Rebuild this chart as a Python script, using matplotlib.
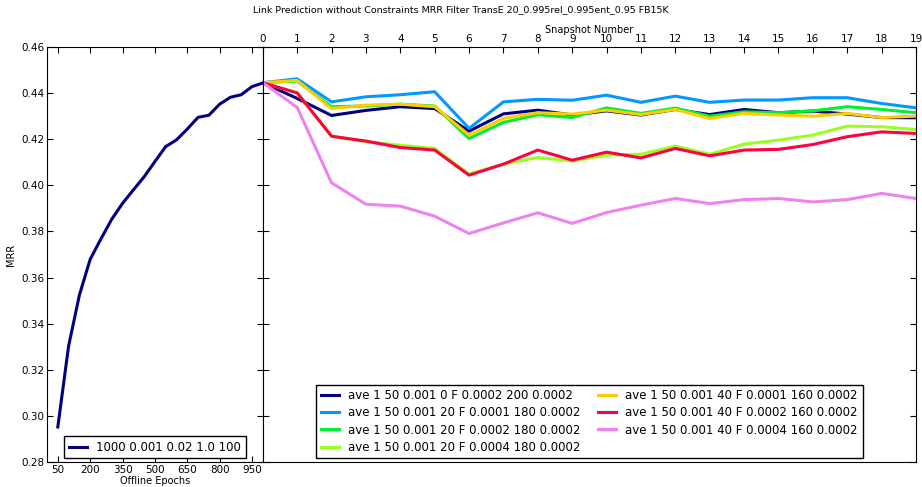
import numpy as np
import matplotlib
matplotlib.use("Agg")
import matplotlib.pyplot as plt

# offline training curve
offline_epochs = [50, 100, 150, 200, 250, 300, 350, 400, 450, 500,
                  550, 600, 650, 700, 750, 800, 850, 900, 950, 1000]
offline_mrr = [0.2952, 0.3303, 0.3524, 0.3679, 0.3768, 0.3853, 0.3922, 0.3980,
               0.4037, 0.4103, 0.4168, 0.4197, 0.4244, 0.4295, 0.4304, 0.4352,
               0.4382, 0.4393, 0.4428, 0.4444]
offline_label = "1000 0.001 0.02 1.0 100"

# online snapshots
snapshots = list(range(20))
start = 0.4445
ave_0_2 = [start, 0.4377, 0.4303, 0.4325, 0.4341, 0.4333, 0.4235, 0.4310, 0.4326, 0.4305,
           0.4323, 0.4305, 0.4329, 0.4307, 0.4329, 0.4315, 0.4322, 0.4309, 0.4294, 0.4293]
ave_20_1 = [start, 0.4462, 0.4362, 0.4384, 0.4393, 0.4406, 0.4247, 0.4362, 0.4373, 0.4369,
            0.4391, 0.4360, 0.4387, 0.4360, 0.4370, 0.4370, 0.4380, 0.4380, 0.4355, 0.4336]
ave_20_2 = [start, 0.4452, 0.4341, 0.4344, 0.4352, 0.4344, 0.4203, 0.4273, 0.4306, 0.4294,
            0.4336, 0.4312, 0.4335, 0.4300, 0.4319, 0.4315, 0.4323, 0.4341, 0.4329, 0.4315]
ave_20_4 = [start, 0.4401, 0.4213, 0.4189, 0.4174, 0.4160, 0.4049, 0.4092, 0.4121, 0.4105,
            0.4131, 0.4135, 0.4170, 0.4135, 0.4179, 0.4196, 0.4218, 0.4257, 0.4254, 0.4242]
ave_40_1 = [start, 0.4455, 0.4333, 0.4348, 0.4352, 0.4341, 0.4218, 0.4290, 0.4315, 0.4309,
            0.4326, 0.4307, 0.4329, 0.4290, 0.4312, 0.4305, 0.4300, 0.4312, 0.4294, 0.4300]
ave_40_2 = [start, 0.4401, 0.4213, 0.4192, 0.4164, 0.4153, 0.4044, 0.4092, 0.4153, 0.4109,
            0.4144, 0.4119, 0.4160, 0.4128, 0.4153, 0.4156, 0.4177, 0.4211, 0.4232, 0.4225]
ave_40_4 = [start, 0.4338, 0.4011, 0.3918, 0.3910, 0.3866, 0.3791, 0.3837, 0.3881, 0.3835,
            0.3882, 0.3914, 0.3943, 0.3921, 0.3938, 0.3943, 0.3928, 0.3938, 0.3965, 0.3943]

series = [
    ("ave 1 50 0.001 0 F 0.0002 200 0.0002", ave_0_2, "#000080"),
    ("ave 1 50 0.001 20 F 0.0001 180 0.0002", ave_20_1, "#0099ff"),
    ("ave 1 50 0.001 20 F 0.0002 180 0.0002", ave_20_2, "#00ee33"),
    ("ave 1 50 0.001 20 F 0.0004 180 0.0002", ave_20_4, "#99ff22"),
    ("ave 1 50 0.001 40 F 0.0001 160 0.0002", ave_40_1, "#ffcc00"),
    ("ave 1 50 0.001 40 F 0.0002 160 0.0002", ave_40_2, "#ff0040"),
    ("ave 1 50 0.001 40 F 0.0004 160 0.0002", ave_40_4, "#ee82ee"),
]

plt.rcParams["xtick.direction"] = "in"
plt.rcParams["ytick.direction"] = "in"
plt.rcParams["xtick.major.size"] = 4
plt.rcParams["ytick.major.size"] = 4

fig = plt.figure(figsize=(9.22, 4.87), dpi=100)
fig.suptitle("Link Prediction without Constraints MRR Filter TransE 20_0.995rel_0.995ent_0.95 FB15K",
             fontsize=6.8, y=0.99)

ax1 = fig.add_axes([0.051, 0.0513, 0.234, 0.8522])
ax2 = fig.add_axes([0.285, 0.0513, 0.7085, 0.8522], sharey=ax1)

ax1.plot(offline_epochs, offline_mrr, color="#000080", lw=2.2, label=offline_label)
ax1.set_xlim(0, 1000)
ax1.set_ylim(0.28, 0.46)
ax1.set_xticks([50, 200, 350, 500, 650, 800, 950])
ax1.set_yticks(np.arange(0.28, 0.4601, 0.02))
ax1.yaxis.set_major_formatter(matplotlib.ticker.FormatStrFormatter("%.2f"))
ax1.tick_params(labelsize=7.5, top=True, right=True, pad=2)
ax1.set_xlabel("Offline Epochs", fontsize=7, labelpad=1)
ax1.set_ylabel("MRR", fontsize=7)
ax1.legend(loc="lower center", fontsize=8.5, handlelength=1.5, fancybox=False,
           borderaxespad=0.3, framealpha=1, edgecolor="black")

for label, vals, color in series:
    ax2.plot(snapshots, vals, color=color, lw=2.2, label=label)
ax2.set_xlim(0, 19)
ax2.set_xticks(snapshots)
ax2.xaxis.tick_top()
ax2.xaxis.set_label_position("top")
ax2.set_xlabel("Snapshot Number", fontsize=7, labelpad=1)
ax2.tick_params(axis="x", labelsize=7.5, pad=2)
ax2.tick_params(axis="y", left=True, right=True, labelleft=False)
ax2.legend(loc="lower center", ncol=2, fontsize=8.5, handlelength=1.5, fancybox=False,
           borderaxespad=0.3, framealpha=1, edgecolor="black",
           columnspacing=1.5, handletextpad=0.8, labelspacing=0.35)

fig.savefig("out.png", dpi=100)
